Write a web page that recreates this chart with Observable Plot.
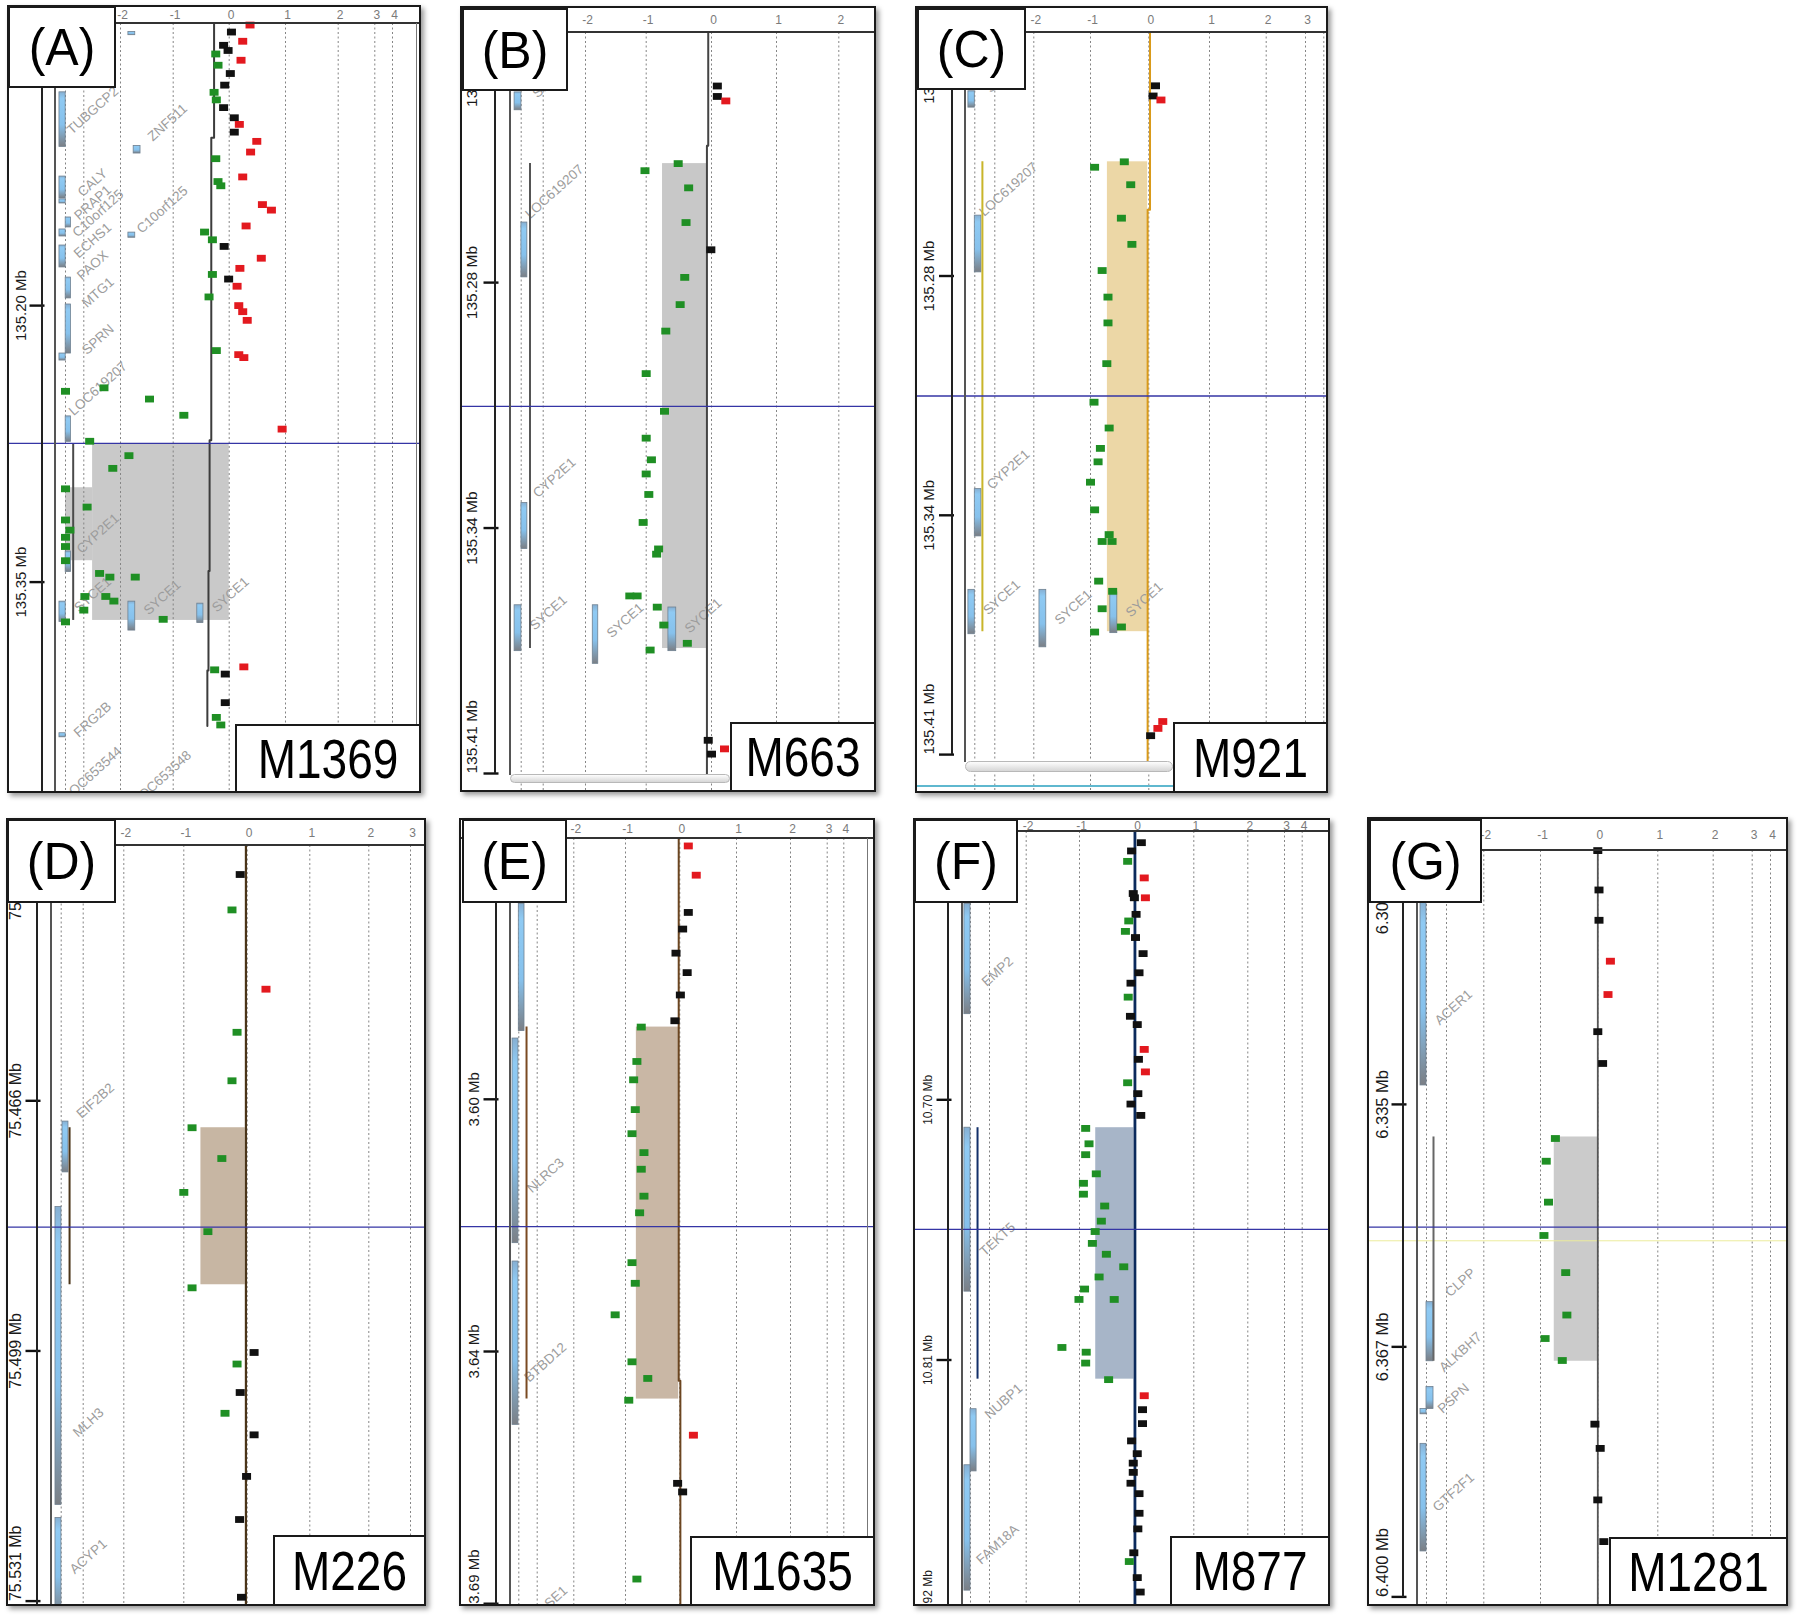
<!DOCTYPE html>
<html><head><meta charset="utf-8">
<script src="https://cdn.jsdelivr.net/npm/d3@7"></script>
<script src="https://cdn.jsdelivr.net/npm/@observablehq/plot@0.6"></script>
<style>
body{margin:0;background:#fff;}
#fig{position:relative;width:1800px;height:1623px;overflow:hidden;background:#fff;font-family:"Liberation Sans",Arial,sans-serif;}
.frame{position:absolute;box-sizing:border-box;border:2px solid #1a1a1a;box-shadow:3px 3px 5px rgba(0,0,0,0.4);pointer-events:none;}
.lbl{position:absolute;box-sizing:border-box;background:#fff;border:2px solid #1a1a1a;display:flex;align-items:center;justify-content:center;color:#000;line-height:1;}
.ln{position:absolute;}
</style></head>
<body>
<svg width="0" height="0" style="position:absolute"><defs>
<linearGradient id="geneGrad" x1="0" y1="0" x2="0" y2="1">
<stop offset="0" stop-color="#86afd2"/><stop offset="0.12" stop-color="#8fcaf3"/><stop offset="0.6" stop-color="#86c1ec"/><stop offset="1" stop-color="#7b7f85"/>
</linearGradient></defs></svg>
<div id="fig"></div>
<script>
// ---------------- DATA ----------------
// calls: "+" gain (red), "-" loss (green), "0" no call (black)
// Panel A  M1369
const A_pos = [135.0478,135.0516,135.0566,135.0588,135.0616,135.0635,135.0669,135.0696,135.0741,135.0804,
135.0843,135.0884,135.0926,135.0981,135.1017,135.1059,135.1109,135.1167,135.1203,135.1302,
135.1327,135.1350,135.1452,135.1482,135.1568,135.1601,135.1643,135.1679,135.1743,135.1798,
135.1831,135.1856,135.1895,135.1953,135.2000,135.2033,135.2080,135.2244,135.2266,135.2282,
135.2465,135.2446,135.2507,135.2595,135.2670,135.2736,135.2814,135.2883,135.2994,135.3093,
135.3163,135.3218,135.3257,135.3307,135.3384,135.3453,135.3473,135.3473,135.3578,135.3578,
135.3603,135.3652,135.3716,135.3702,135.3976,135.3999,135.3960,135.4154,135.4234,135.4275];
const A_log2 = [0.37,0.04,0.24,-0.10,-0.02,-0.24,0.21,-0.20,0.02,-0.08,
-0.27,-0.23,-0.10,0.09,0.18,0.09,0.49,0.38,-0.24,0.24,
-0.20,-0.15,0.59,0.75,0.30,-0.44,-0.30,-0.09,0.57,0.19,
-0.30,-0.01,0.14,-0.36,0.17,0.24,0.32,-0.23,0.17,0.26,
-4.00,-2.45,-1.45,-0.81,0.94,-2.84,-1.84,-2.21,-4.00,-2.91,
-4.00,-3.76,-4.00,-4.00,-4.00,-2.57,-2.29,-1.72,-2.97,-2.40,
-2.18,-3.00,-4.00,-1.19,-0.26,-0.07,0.26,-0.07,-0.23,-0.15];
const A_call = ("+0+00-+-00"+"--00+0++-+"+"--+++--0++"+"-0+-+++-++"+"----+-----"+"----------"+"-----0+0--").split("");
const A_tickPos = [135.20,135.35];
const A_tickLab = ["135.20 Mb","135.35 Mb"];
const A_segVal = [-0.27,-0.32,-0.35,-0.37,-0.39];
const A_segFrom = [135.047,135.109,135.273,135.344,135.398];
const A_segTo = [135.109,135.273,135.344,135.398,135.428];
const A_regFrom = [135.2753,135.2988], A_regTo = [135.3708,135.3384], A_regLow = [-2.76,-4.0], A_regHigh = [0,-2.76];
const A_cursor = 135.2747;
const A_gene = ["TUBGCP2","CALY","PRAP1","C10orf125","ECHS1","PAOX","MTG1","SPRN","","LOC619207","CYP2E1","SYCE1","FRG2B","","ZNF511","C10orf125","SYCE1","SYCE1","LOC653544","LOC653548"];
const A_geneFrom = [135.0843,135.1300,135.1424,135.1522,135.1587,135.1674,135.1848,135.1994,135.2260,135.2601,135.3334,135.3606,135.4320,135.0516,135.1134,135.1604,135.3606,135.3617,135.4660,135.4660];
const A_geneTo = [135.1139,135.1419,135.1446,135.1576,135.1625,135.1793,135.1961,135.2260,135.2298,135.2739,135.3445,135.3716,135.4342,135.0533,135.1175,135.1632,135.3763,135.3722,135.4680,135.4680];
const A_geneLane = ["a","a","a","b","a","a","b","b","a","b","b","a","a","c","d","c","c","e","a","c"];
const A_geneLabelAt = [135.0942,135.1333,135.1442,135.1500,135.1647,135.1782,135.1929,135.2184,null,135.2450,135.3237,135.3568,135.4246,null,135.1007,135.1480,135.3584,135.3568,135.4539,135.4561];

// Panel B  M663
const B_pos = [135.2259,135.2287,135.2299,135.2467,135.2486,135.2532,135.2625,135.2698,135.2772,135.2845,135.2916,135.3030,135.3131,135.3203,135.3261,135.3299,135.3354,135.3429,135.3500,135.3514,135.3626,135.3626,135.3656,135.3704,135.3753,135.3771,135.4013,135.4050,135.4036];
const B_log2 = [0.09,0.09,0.22,-0.51,-1.02,-0.35,-0.39,-0.01,-0.41,-0.48,-0.70,-1.00,-0.72,-1.00,-0.92,-1.00,-0.96,-1.05,-0.81,-0.84,-1.27,-1.15,-0.83,-0.73,-0.37,-0.94,-0.05,0.00,0.20];
const B_call = ("00+"+"----"+"0"+"------------------"+"00+").split("");
const B_tickPos = [135.2217,135.2786,135.3444,135.4102];
const B_tickLab = ["135.22 Mb","135.28 Mb","135.34 Mb","135.41 Mb"];
const B_segVal = [-0.05,-0.07], B_segFrom = [135.2114,135.2419], B_segTo = [135.2419,135.4116];
const B_regFrom = [135.2467], B_regTo = [135.3767], B_regLow = [-0.75], B_regHigh = [-0.07];
const B_cursor = 135.3118;
const B_gene = ["SPRN","LOC619207","CYP2E1","SYCE1","SYCE1","SYCE1"];
const B_geneFrom = [135.2276,135.2625,135.3377,135.3651,135.3651,135.3657];
const B_geneTo = [135.2324,135.2772,135.3500,135.3774,135.3808,135.3774];
const B_geneLane = ["a","b","b","a","c","e"];
const B_geneLabelAt = [135.2250,135.2542,135.3309,135.3671,135.3692,135.3679];

// Panel C  M921
const C_pos = [135.2263,135.2291,135.2302,135.2472,135.2487,135.2535,135.2627,135.2699,135.2771,135.2844,135.2915,135.3027,135.3133,135.3204,135.3260,135.3297,135.3353,135.3429,135.3497,135.3516,135.3516,135.3625,135.3653,135.3701,135.3751,135.3765,135.4011,135.4030,135.4050];
const C_log2 = [0.11,0.07,0.20,-0.42,-0.93,-0.31,-0.47,-0.29,-0.80,-0.70,-0.70,-0.72,-0.94,-0.68,-0.83,-0.87,-1.00,-0.93,-0.68,-0.80,-0.63,-0.86,-0.62,-0.80,-0.47,-0.93,0.23,0.15,0.03];
const C_call = ("00+"+"-----------------------"+"++0").split("");
const C_tickPos = [135.2215,135.2786,135.3444,135.4102];
const C_tickLab = ["135.22 Mb","135.28 Mb","135.34 Mb","135.41 Mb"];
const C_segVal = [0.02,-0.02], C_segFrom = [135.2116,135.2604], C_segTo = [135.2604,135.4119];
const C_regFrom = [135.2472], C_regTo = [135.3764], C_regLow = [-0.71], C_regHigh = [-0.02];
const C_cursor = 135.3116;
const C_gene = ["SPRN","LOC619207","CYP2E1","SYCE1","SYCE1","SYCE1"];
const C_geneFrom = [135.2278,135.2620,135.3372,135.3649,135.3649,135.3656];
const C_geneTo = [135.2323,135.2776,135.3502,135.3771,135.3807,135.3768];
const C_geneLane = ["a","b","b","a","c","e"];
const C_geneLabelAt = [135.2240,135.2548,135.3318,135.3670,135.3697,135.3676];

// Panel D  M226
const D_pos = [75.4366,75.4412,75.4515,75.4571,75.4634,75.4695,75.4735,75.4779,75.4830,75.4903,75.4987,75.5002,75.5039,75.5066,75.5094,75.5148,75.5204,75.5305];
const D_log2 = [-0.11,-0.24,0.30,-0.16,-0.24,-0.87,-0.40,-1.00,-0.62,-0.87,0.11,-0.16,-0.11,-0.35,0.11,-0.01,-0.12,-0.09];
const D_call = ("0-+"+"-------"+"0-0-0000").split("");
const D_tickPos = [75.4376,75.4660,75.4985,75.5310];
const D_tickLab = ["75.438 Mb","75.466 Mb","75.499 Mb","75.531 Mb"];
const D_segVal = [-0.02], D_segFrom = [75.4329], D_segTo = [75.5330];
const D_regFrom = [75.4695], D_regTo = [75.4899], D_regLow = [-0.73], D_regHigh = [-0.03];
const D_cursor = 75.4824;
const D_gene = ["EIF2B2","MLH3","ACYP1"];
const D_geneFrom = [75.4687,75.4798,75.5202];
const D_geneTo = [75.4753,75.5185,75.5330];
const D_geneLane = ["b","a","a"];
const D_geneLabelAt = [75.4660,75.5078,75.5252];

// Panel E  M1635
const E_pos = [3.5558,3.5609,3.5674,3.5703,3.5745,3.5779,3.5818,3.5863,3.5874,3.5934,3.5966,3.6018,3.6060,3.6093,3.6122,3.6169,3.6198,3.6285,3.6321,3.6376,3.6458,3.6487,3.6525,3.6586,3.6670,3.6685,3.6837];
const E_log2 = [0.15,0.29,0.15,0.05,-0.07,0.13,0.01,-0.09,-0.71,-0.79,-0.85,-0.82,-0.88,-0.66,-0.71,-0.66,-0.74,-0.88,-0.82,-1.20,-0.88,-0.59,-0.94,0.24,-0.04,0.05,-0.79];
const E_call = ("++000000"+"---------------"+"+00-").split("");
const E_tickPos = [3.600,3.644,3.688];
const E_tickLab = ["3.60 Mb","3.64 Mb","3.69 Mb"];
const E_segVal = [-0.02,0.01], E_segFrom = [3.5546,3.6491], E_segTo = [3.6491,3.6884];
const E_regFrom = [3.5874], E_regTo = [3.6523], E_regLow = [-0.80], E_regHigh = [-0.02];
const E_cursor = 3.6222;
const E_gene = ["","NLRC3","BTBD12","DNASE1"];
const E_geneFrom = [3.5659,3.5894,3.6283,3.6900];
const E_geneTo = [3.5881,3.6251,3.6568,3.6950];
const E_geneLane = ["b","a","a","a"];
const E_geneLabelAt = [null,3.6133,3.6459,3.6885];

// Panel F  M877
const F_pos = [10.5913,10.5948,10.5992,10.6062,10.6128,10.6146,10.6146,10.6216,10.6244,10.6288,
10.6314,10.6382,10.6463,10.6507,10.6566,10.6647,10.6682,10.6787,10.6829,10.6882,
10.6928,10.6974,10.7018,10.7066,10.7121,10.7186,10.7232,10.7313,10.7353,10.7399,
10.7449,10.7513,10.7557,10.7607,10.7653,10.7706,10.7749,10.7800,10.7844,10.7844,
10.8047,10.8067,10.8113,10.8183,10.8251,10.8310,10.8369,10.8442,10.8496,10.8536,
10.8575,10.8621,10.8665,10.8748,10.8814,10.8915,10.8952,10.9020,10.9081];
const F_log2 = [0.10,-0.07,-0.14,0.15,-0.04,-0.02,0.17,0.01,-0.12,-0.18,
0.00,0.13,0.06,-0.08,-0.13,-0.09,0.03,0.15,0.05,0.17,
-0.14,0.04,-0.08,0.09,-0.89,-0.83,-0.89,-0.70,-0.93,-0.93,
-0.55,-0.61,-0.72,-0.77,-0.52,-0.21,-0.65,-0.91,-1.01,-0.38,
-1.33,-0.88,-0.89,-0.48,0.15,0.12,0.12,-0.07,0.03,-0.04,
-0.04,-0.08,0.06,0.06,0.04,-0.03,-0.11,0.03,0.08];
const F_call = ("00-+00+0--0000-00+0+-000"+"--------------------"+"+"+"00000000000"+"-00").split("");
const F_tickPos = [10.70,10.81,10.92];
const F_tickLab = ["10.70 Mb","10.81 Mb","10.92 Mb"];
const F_segVal = [-0.01], F_segFrom = [10.5866], F_segTo = [10.9143];
const F_regFrom = [10.7118], F_regTo = [10.8181], F_regLow = [-0.71], F_regHigh = [-0.03];
const F_cursor = 10.7548;
const F_gene = ["EMP2","TEKT5","NUBP1","FAM18A"];
const F_geneFrom = [10.6172,10.7118,10.8308,10.8545];
const F_geneTo = [10.6638,10.7811,10.8571,10.9075];
const F_geneLane = ["a","a","b","a"];
const F_geneLabelAt = [10.6458,10.7590,10.8275,10.8880];

// Panel G  M1281
const G_pos = [6.3015,6.3067,6.3107,6.3161,6.3205,6.3254,6.3296,6.3395,6.3425,6.3479,6.3523,6.3572,6.3628,6.3659,6.3688,6.3772,6.3804,6.3872,6.3927];
const G_log2 = [0.00,0.02,0.02,0.21,0.17,0.00,0.08,-0.74,-0.90,-0.86,-0.94,-0.56,-0.54,-0.92,-0.62,-0.05,0.04,0.00,0.10];
const G_call = ("000++00"+"--------"+"0000").split("");
const G_tickPos = [6.3080,6.335,6.367,6.400];
const G_tickLab = ["6.308 Mb","6.335 Mb","6.367 Mb","6.400 Mb"];
const G_segVal = [0.00], G_segFrom = [6.3015], G_segTo = [6.4013];
const G_regFrom = [6.3393], G_regTo = [6.3689], G_regLow = [-0.76], G_regHigh = [0];
const G_cursor = 6.3512, G_marker = 6.3530;
const G_gene = ["ACER1","CLPP","ALKBH7","PSPN","GTF2F1"];
const G_geneFrom = [6.3082,6.3611,6.3723,6.3752,6.3798];
const G_geneTo = [6.3325,6.3689,6.3752,6.3759,6.3940];
const G_geneLane = ["a","b","b","a","a"];
const G_geneLabelAt = [6.3222,6.3585,6.3677,6.3738,6.3862];

// log2 ratio axis (compressed beyond |2|, as in the browser view)
const xTickValues = [-4,-3,-2,-1,0,1,2,3,4];

// ---------------- LAYOUT ----------------
const RED = "#e3191f", GREEN = "#1f8f24", BLACK = "#111111", GENE_FILL = "#8ac6f0";
const panels = [
 {label:"(A)", sample:"M1369", frame:[7,5,414,788], hdr:18, labelBox:[8,6,108,82], sampleBox:[235,724,186,69],
  xPx:[65,83.3,120,172.7,228.7,285,337.7,374.3,392], grid:[-4,-3,-2,-1,0,1,2,3,4], hdrTicks:[-2,-1,0,1,2,3,4],
  yCal:[135.20,135.35], yPx:[305.1,581.6],
  pos:A_pos, log2:A_log2, call:A_call, ticks:A_tickPos, tickLabels:A_tickLab, startLast:false,
  segVal:A_segVal, segFrom:A_segFrom, segTo:A_segTo, regFrom:A_regFrom, regTo:A_regTo, regLow:A_regLow, regHigh:A_regHigh, cursor:A_cursor,
  gene:A_gene, geneFrom:A_geneFrom, geneTo:A_geneTo, geneLane:A_geneLane, geneLabelAt:A_geneLabelAt,
  lanes:{a:[-4.33,-3.99], b:[-3.99,-3.70], c:[-1.85,-1.72], d:[-1.75,-1.62], e:[-0.57,-0.46]},
  trackX:-3.58, regionFill:"#c9c9c9", segStroke:"#3c3c3c", segWidth:2, trackStroke:"#4a4a4a",
  axisX:42, axisY:[5,793], tickX:36.5, labelX:21, geneLineX:55, geneLineY:[23,793], labFont:15, innerRight:416},
 {label:"(B)", sample:"M663", frame:[460,6,416,786], hdr:26, labelBox:[462,8,106,83], sampleBox:[730,722,146,70],
  xPx:[520.7,542.7,585,645.7,711,776,838.3,878,897], grid:[-4,-3,-2,-1,0,1,2], hdrTicks:[-2,-1,0,1,2],
  yCal:[135.2786,135.4102], yPx:[282.1,773.0],
  pos:B_pos, log2:B_log2, call:B_call, ticks:B_tickPos, tickLabels:B_tickLab, startLast:true,
  segVal:B_segVal, segFrom:B_segFrom, segTo:B_segTo, regFrom:B_regFrom, regTo:B_regTo, regLow:B_regLow, regHigh:B_regHigh, cursor:B_cursor,
  gene:B_gene, geneFrom:B_geneFrom, geneTo:B_geneTo, geneLane:B_geneLane, geneLabelAt:B_geneLabelAt,
  lanes:{a:[-4.30,-3.99], b:[-3.99,-3.72], c:[-1.88,-1.79], e:[-0.66,-0.54]},
  trackX:-3.60, regionFill:"#c8c8c8", segStroke:"#444", segWidth:2, trackStroke:"#555",
  axisX:495, axisY:[6,773], tickX:490.5, labelX:472, geneLineX:510, geneLineY:[32,775], labFont:15.5,
  scroll:[510,774,220,9]},
 {label:"(C)", sample:"M921", frame:[915,6,413,787], hdr:26, labelBox:[917,8,109,82], sampleBox:[1173,722,155,71],
  xPx:[974.3,994.3,1033.3,1090,1148.3,1209,1265.7,1305,1323.3], grid:[-4,-3,-2,-1,0,1,2,3,4], hdrTicks:[-2,-1,0,1,2,3],
  yCal:[135.2786,135.4102], yPx:[275.5,754.1],
  pos:C_pos, log2:C_log2, call:C_call, ticks:C_tickPos, tickLabels:C_tickLab, startLast:true,
  segVal:C_segVal, segFrom:C_segFrom, segTo:C_segTo, regFrom:C_regFrom, regTo:C_regTo, regLow:C_regLow, regHigh:C_regHigh, cursor:C_cursor,
  gene:C_gene, geneFrom:C_geneFrom, geneTo:C_geneTo, geneLane:C_geneLane, geneLabelAt:C_geneLabelAt,
  lanes:{a:[-4.32,-4.0], b:[-4.0,-3.67], c:[-1.90,-1.78], e:[-0.66,-0.54]},
  trackX:-3.62, regionFill:"#ecd7a6", segStroke:"#d99a1a", segWidth:2, trackStroke:"#c9b52a",
  axisX:952, axisY:[6,754], tickX:946, labelX:929, geneLineX:965, geneLineY:[32,762], labFont:15,
  scroll:[965,761,208,11], cyan:[917,785,256,2]},
 {label:"(D)", sample:"M226", frame:[6,818,420,788], hdr:27, labelBox:[7,819,109,84], sampleBox:[273,1535,153,71],
  xPx:[60.7,82.7,123.3,183.3,246.7,309.3,368.3,410,430], grid:[-4,-3,-2,-1,0,1,2,3], hdrTicks:[-2,-1,0,1,2,3],
  yCal:[75.466,75.531], yPx:[1100.3,1600.6],
  pos:D_pos, log2:D_log2, call:D_call, ticks:D_tickPos, tickLabels:D_tickLab, startLast:true,
  segVal:D_segVal, segFrom:D_segFrom, segTo:D_segTo, regFrom:D_regFrom, regTo:D_regTo, regLow:D_regLow, regHigh:D_regHigh, cursor:D_cursor,
  gene:D_gene, geneFrom:D_geneFrom, geneTo:D_geneTo, geneLane:D_geneLane, geneLabelAt:D_geneLabelAt,
  lanes:{a:[-4.26,-3.99], b:[-3.94,-3.67]},
  trackX:-3.62, regionFill:"#c7b6a3", segStroke:"#4b3519", segWidth:2.2, trackStroke:"#4b3519",
  axisX:37, axisY:[818,1606], tickX:32.5, labelX:15, geneLineX:51, geneLineY:[845,1606], labFont:16},
 {label:"(E)", sample:"M1635", frame:[459,818,416,788], hdr:20, labelBox:[462,819,105,84], sampleBox:[690,1536,185,70],
  xPx:[518.3,536.7,573.3,625,679.3,736,790,826.7,843.3], grid:[-4,-3,-2,-1,0,1,2,3,4], hdrTicks:[-2,-1,0,1,2,3,4],
  yCal:[3.600,3.688], yPx:[1098.8,1603.2],
  pos:E_pos, log2:E_log2, call:E_call, ticks:E_tickPos, tickLabels:E_tickLab, startLast:true,
  segVal:E_segVal, segFrom:E_segFrom, segTo:E_segTo, regFrom:E_regFrom, regTo:E_regTo, regLow:E_regLow, regHigh:E_regHigh, cursor:E_cursor,
  gene:E_gene, geneFrom:E_geneFrom, geneTo:E_geneTo, geneLane:E_geneLane, geneLabelAt:E_geneLabelAt,
  lanes:{a:[-4.34,-4.02], b:[-4.0,-3.69]},
  trackX:-3.58, regionFill:"#c9b7a5", segStroke:"#6b4520", segWidth:2, trackStroke:"#7a4a22",
  axisX:496, axisY:[818,1606], tickX:490.5, labelX:474, geneLineX:510, geneLineY:[838,1606], labFont:15, innerRight:867},
 {label:"(F)", sample:"M877", frame:[913,818,417,788], hdr:13, labelBox:[914,819,104,84], sampleBox:[1170,1536,160,70],
  xPx:[970,989,1025.7,1079,1135,1193.3,1247.3,1284,1301.7], grid:[-4,-3,-2,-1,0,1,2,3,4], hdrTicks:[-2,-1,0,1,2,3,4],
  yCal:[10.70,10.81], yPx:[1099.3,1359.5],
  pos:F_pos, log2:F_log2, call:F_call, ticks:F_tickPos, tickLabels:F_tickLab, startLast:true,
  segVal:F_segVal, segFrom:F_segFrom, segTo:F_segTo, regFrom:F_regFrom, regTo:F_regTo, regLow:F_regLow, regHigh:F_regHigh, cursor:F_cursor,
  gene:F_gene, geneFrom:F_geneFrom, geneTo:F_geneTo, geneLane:F_geneLane, geneLabelAt:F_geneLabelAt,
  lanes:{a:[-4.32,-4.0], b:[-4.0,-3.68]},
  trackX:-3.63, regionFill:"#a7b5c8", segStroke:"#0b2a5c", segWidth:2.8, trackStroke:"#13306a",
  axisX:948, axisY:[818,1606], tickX:943.5, labelX:928, geneLineX:962, geneLineY:[831,1606], labFont:12},
 {label:"(G)", sample:"M1281", frame:[1367,817,421,789], hdr:33, labelBox:[1369,819,113,84], sampleBox:[1609,1537,179,69],
  xPx:[1426,1446,1483.3,1540,1597.3,1657.3,1712.7,1751.7,1770], grid:[-4,-3,-2,-1,0,1,2,3,4], hdrTicks:[-2,-1,0,1,2,3,4],
  yCal:[6.335,6.400], yPx:[1103.9,1596.4],
  pos:G_pos, log2:G_log2, call:G_call, ticks:G_tickPos, tickLabels:G_tickLab, startLast:true,
  segVal:G_segVal, segFrom:G_segFrom, segTo:G_segTo, regFrom:G_regFrom, regTo:G_regTo, regLow:G_regLow, regHigh:G_regHigh, cursor:G_cursor, marker:G_marker,
  gene:G_gene, geneFrom:G_geneFrom, geneTo:G_geneTo, geneLane:G_geneLane, geneLabelAt:G_geneLabelAt,
  lanes:{a:[-4.3,-4.0], b:[-4.0,-3.65]},
  trackX:-3.65, regionFill:"#cbcbcb", segStroke:"#555", segWidth:1.8, trackStroke:"#666",
  axisX:1403, axisY:[817,1597], tickX:1398.5, labelX:1382, geneLineX:1417, geneLineY:[850,1606], labFont:16.5}
];

// ---------------- DRAWING ----------------
const fig = document.getElementById("fig");
const probeSym = {draw(c){ c.moveTo(-4.5,-3.4); c.lineTo(4.5,-3.4); c.lineTo(4.5,3.4); c.lineTo(-4.5,3.4); c.closePath(); }};
const tickSym = {draw(c){ c.moveTo(-7.5,0); c.lineTo(7.5,0); }};

function div(cls, x, y, w, h, css){
  const d = document.createElement("div");
  d.className = cls;
  Object.assign(d.style, {left:x+"px", top:y+"px", width:w+"px", height:h+"px"}, css||{});
  fig.append(d);
  return d;
}
function vline(x, y1, y2, color, w){ div("ln", x - w/2, y1, w, y2 - y1, {background:color}); }
function hline(x1, x2, y, color, w){ div("ln", x1, y - w/2, x2 - x1, w, {background:color}); }
function textBox(b, text, size, sy){
  const d = div("lbl", b[0], b[1], b[2], b[3]);
  const s = document.createElement("span");
  s.textContent = text;
  Object.assign(s.style, {fontSize:size+"px", display:"inline-block", transform:`scaleY(${sy})`});
  d.append(s);
}

function drawPanel(p){
  const [L, T, W, H] = p.frame;
  // piecewise log2 axis (linear within |2|, compressed outside), as a d3 scale feeding Plot's x
  const fx = d3.scaleLinear().domain(xTickValues).range(p.xPx.map(v => v - L));
  const probes = p.pos.map((y, i) => ({y, v:p.log2[i], c:p.call[i]}));
  const genes = p.gene.map((name, i) => ({name, y1:p.geneFrom[i], y2:p.geneTo[i],
    x1:p.lanes[p.geneLane[i]][0], x2:p.lanes[p.geneLane[i]][1], lab:p.geneLabelAt[i]}));
  const regions = p.regFrom.map((y1, i) => ({y1, y2:p.regTo[i], x1:p.regLow[i], x2:p.regHigh[i]}));
  const segPts = [];
  p.segVal.forEach((v, i) => { segPts.push({x:v, y:p.segFrom[i]}, {x:v, y:p.segTo[i]}); });
  const ticks = p.ticks.map((v, i) => ({v, lab:p.tickLabels[i], last:p.startLast && i === p.ticks.length - 1}));
  const track = [{x:p.trackX, y1:regions[0].y1, y2:regions[0].y2}];
  const X = k => d => fx(d[k]);
  const marks = [
    Plot.rect(regions, {x1:X("x1"), x2:X("x2"), y1:"y1", y2:"y2", fill:p.regionFill}),
    Plot.ruleX(p.grid, {x:d => fx(d), stroke:"#858585", strokeWidth:1, strokeDasharray:"2,2.5", insetTop:p.hdr}),
  ];
  if (p.marker != null) marks.push(Plot.ruleY([p.marker], {stroke:"#ecec9c", strokeWidth:1}));
  marks.push(
    Plot.rect(genes, {x1:X("x1"), x2:X("x2"), y1:"y1", y2:"y2", fill:GENE_FILL, stroke:"#6f8191", strokeWidth:0.8}),
    Plot.text(genes.filter(d => d.name && d.lab != null), {x:X("x2"), y:"lab", text:"name", rotate:-42, dx:27, textAnchor:"middle", fill:"#9c9c9c", fontSize:13.5}),
    Plot.ruleX(track, {x:X("x"), y1:"y1", y2:"y2", stroke:p.trackStroke, strokeWidth:2}),
    Plot.line(segPts, {x:X("x"), y:"y", stroke:p.segStroke, strokeWidth:p.segWidth}),
    Plot.ruleY([p.cursor], {stroke:"#3535a5", strokeWidth:1.3}),
    Plot.dot(probes, {x:X("v"), y:"y", fill:"c", stroke:"none", symbol:probeSym, r:4}),
    Plot.text(p.hdrTicks, {x:d => fx(d), frameAnchor:"top", lineAnchor:"middle", textAnchor:"middle", dx:2, dy:p.hdr/2 + 1, text:d => String(d), fill:"#7a7a7a", fontSize:12}),
    Plot.dot(ticks, {y:"v", frameAnchor:"left", dx:p.tickX - L, symbol:tickSym, stroke:"#111", strokeWidth:2.4, fill:"none"}),
    Plot.text(ticks.filter(d => !d.last), {y:"v", text:"lab", frameAnchor:"left", dx:p.labelX - L, rotate:-90, textAnchor:"middle", lineAnchor:"middle", fontSize:p.labFont, fill:"#1a1a1a"}),
    Plot.text(ticks.filter(d => d.last), {y:"v", text:"lab", frameAnchor:"left", dx:p.labelX - L, rotate:-90, textAnchor:"start", lineAnchor:"middle", fontSize:p.labFont, fill:"#1a1a1a"})
  );
  const svg = Plot.plot({
    width:W, height:H, margin:0,
    x:{type:"linear", domain:[0, W], range:[0, W], axis:null},
    y:{domain:p.yCal, range:p.yPx.map(v => v - T), axis:null},
    color:{domain:["+","-","0"], range:[RED, GREEN, BLACK]},
    style:{background:"#fff", overflow:"hidden", fontFamily:"Liberation Sans, Arial, sans-serif"},
    marks
  });
  svg.querySelectorAll(`[fill="${GENE_FILL}"]`).forEach(e => e.setAttribute("fill", "url(#geneGrad)"));
  Object.assign(svg.style, {position:"absolute", left:L+"px", top:T+"px"});
  fig.append(svg);

  // browser chrome
  vline(p.axisX, p.axisY[0], p.axisY[1], "#222", 1.6);
  vline(p.geneLineX, p.geneLineY[0], p.geneLineY[1], "#555", 1.4);
  hline(L, L + W, T + p.hdr, "#333", 1.6);
  if (p.innerRight) vline(p.innerRight, T + p.hdr, T + H, "#777", 1);
  if (p.scroll) div("ln", p.scroll[0], p.scroll[1], p.scroll[2], p.scroll[3],
    {background:"linear-gradient(#fdfdfd,#d6d6d6)", border:"1px solid #b8b8b8", borderRadius:"6px", boxSizing:"border-box"});
  if (p.cyan) div("ln", p.cyan[0], p.cyan[1], p.cyan[2], p.cyan[3], {background:"#5fb8cf"});
  div("frame", L, T, W, H);
  textBox(p.labelBox, p.label, 50, 1.05);
  textBox(p.sampleBox, p.sample, 46, 1.2);
}
panels.forEach(drawPanel);
</script>
</body></html>
